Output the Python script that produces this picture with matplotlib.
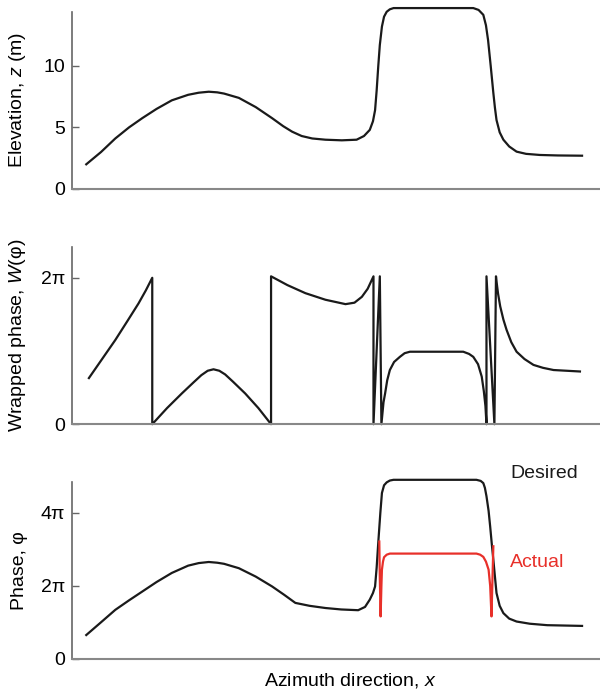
import numpy as np
import matplotlib
matplotlib.use("Agg")
import matplotlib.pyplot as plt

plt.rcParams['font.family'] = ['Liberation Sans', 'DejaVu Sans']
plt.rcParams['mathtext.fontset'] = 'custom'
plt.rcParams['mathtext.rm'] = 'Liberation Sans'
plt.rcParams['mathtext.it'] = 'Liberation Sans:italic'

# Elevation profile (azimuth in arbitrary units 0-100, z in m)
x_elev = [2.7, 5.5, 8.2, 10.8, 13.3, 16.0, 18.9, 22.0, 24.0, 25.9, 27.5, 28.8, 31.6,
          34.8, 37.9, 40.0, 41.7, 43.5, 45.5, 48.0, 51.1, 53.9, 55.3, 56.4, 57.0,
          57.4, 57.7, 58.0, 58.3, 58.7, 59.1, 59.6, 60.2, 60.9, 76.0, 77.0, 77.9,
          78.4, 78.8, 79.3, 79.8, 80.1, 80.4, 81.0, 81.7, 82.8, 84.2, 86.0, 88.6,
          92.0, 96.6]
z_elev = [2.0, 3.0, 4.1, 5.0, 5.75, 6.5, 7.2, 7.65, 7.82, 7.9, 7.85, 7.75, 7.4,
          6.65, 5.75, 5.1, 4.65, 4.3, 4.1, 4.0, 3.95, 4.0, 4.3, 4.8, 5.5,
          6.4, 8.0, 9.95, 11.7, 13.2, 14.0, 14.4, 14.6, 14.7, 14.7, 14.55, 14.15,
          13.3, 12.1, 10.0, 7.8, 6.6, 5.6, 4.6, 4.0, 3.45, 3.03, 2.85, 2.76,
          2.72, 2.7]

# Wrapped phase (in units of pi)
x_wrap = [3.2, 5.7, 8.2, 10.5, 12.6, 14.0, 15.2,
          15.2, 18.0, 20.8, 23.0, 24.5, 25.7, 26.8, 27.9, 29.0, 30.5, 32.8, 35.3, 37.7,
          37.7, 40.8, 44.2, 48.0, 51.8, 53.5, 54.9, 56.0, 57.1,
          57.1, 58.3, 58.6,
          59.0, 59.3, 59.7, 60.2, 61.0, 62.1, 63.0, 64.0, 74.1, 75.2, 76.0, 76.9,
          77.6, 78.0, 78.3, 78.5,
          78.5, 80.0, 80.3,
          80.4, 80.7, 81.1, 81.7, 82.3, 83.2, 84.2, 85.7, 87.4, 89.2, 91.2, 96.2]
w_wrap = [0.63, 0.89, 1.15, 1.41, 1.65, 1.83, 2.0,
          0.0, 0.22, 0.42, 0.57, 0.67, 0.73, 0.75, 0.73, 0.68, 0.58, 0.42, 0.22, 0.0,
          2.02, 1.9, 1.79, 1.70, 1.64, 1.66, 1.74, 1.85, 2.02,
          0.0, 2.02, 0.0,
          0.3, 0.42, 0.6, 0.74, 0.85, 0.92, 0.97, 0.99, 0.99, 0.96, 0.92, 0.82,
          0.65, 0.45, 0.25, 0.0,
          2.02, 0.0, 2.02,
          1.95, 1.78, 1.61, 1.43, 1.29, 1.12, 0.99, 0.89, 0.81, 0.77, 0.74, 0.72]

# Desired (unwrapped) phase, units of pi
x_des = [2.7, 5.5, 8.2, 10.8, 13.3, 16.0, 18.9, 22.0, 24.0, 25.9, 27.5, 28.8, 31.6,
         34.8, 37.9, 40.2, 42.3, 45.0, 48.0, 51.0, 54.2, 55.5, 56.4, 57.0, 57.4,
         57.7, 58.0, 58.4, 58.7, 59.1, 59.6, 60.2, 60.9, 76.6, 77.4, 77.9, 78.2,
         78.5, 78.9, 79.2, 79.5, 79.8, 80.1, 80.4, 81.0, 81.7, 82.8, 84.2, 86.7,
         90.0, 96.6]
p_des = [0.65, 1.0, 1.34, 1.6, 1.84, 2.1, 2.35, 2.55, 2.62, 2.65, 2.63, 2.6, 2.48,
         2.25, 1.98, 1.75, 1.53, 1.45, 1.39, 1.35, 1.33, 1.42, 1.62, 1.8, 1.98,
         2.5, 3.17, 4.0, 4.54, 4.75, 4.83, 4.88, 4.90, 4.90, 4.87, 4.81, 4.68,
         4.45, 4.05, 3.62, 3.15, 2.71, 2.25, 1.80, 1.45, 1.25, 1.1, 1.02, 0.96,
         0.92, 0.90]

# Actual phase, units of pi
x_act = [58.2, 58.3, 58.45, 58.6, 58.7, 58.9, 59.1, 59.6, 60.2, 76.6, 77.3, 77.9,
         78.4, 78.9, 79.2, 79.45, 79.6, 79.8]
p_act = [3.21, 2.2, 1.16, 2.0, 2.44, 2.66, 2.78, 2.85, 2.88, 2.88, 2.85, 2.79,
         2.66, 2.44, 2.0, 1.16, 2.0, 3.08]

fig = plt.figure(figsize=(6.0, 6.92), dpi=100)
left, width = 0.12, 0.88
ax1 = fig.add_axes([left, 0.727, width, 0.256])
ax2 = fig.add_axes([left, 0.387, width, 0.256])
ax3 = fig.add_axes([left, 0.048, width, 0.256])

ax1.plot(x_elev, z_elev, color='#1a1a1a', lw=1.6, clip_on=False)
ax2.plot(x_wrap, w_wrap, color='#1a1a1a', lw=1.6, clip_on=False)
ax3.plot(x_des, p_des, color='#1a1a1a', lw=1.6, clip_on=False)
ax3.plot(x_act, p_act, color='#e8302a', lw=1.6, clip_on=False)

ax1.set_ylim(0, 14.4)
ax1.set_yticks([0, 5, 10])
ax2.set_ylim(0, 2.42)
ax2.set_yticks([0, 2])
ax2.set_yticklabels(['0', '2π'])
ax3.set_ylim(0, 4.85)
ax3.set_yticks([0, 2, 4])
ax3.set_yticklabels(['0', '2π', '4π'])

ax1.set_ylabel('Elevation, $z$ (m)', fontsize=14)
ax2.set_ylabel('Wrapped phase, $W$(φ)', fontsize=14)
ax3.set_ylabel('Phase, φ', fontsize=14)

for ax in (ax1, ax2, ax3):
    ax.set_xlim(0, 100)
    ax.set_xticks([])
    ax.spines['top'].set_visible(False)
    ax.spines['right'].set_visible(False)
    ax.spines['left'].set_color('#666666')
    ax.spines['bottom'].set_color('#888888')
    ax.spines['left'].set_linewidth(1.2)
    ax.spines['bottom'].set_linewidth(1.5)
    ax.tick_params(axis='y', direction='in', length=5, width=1, color='#666666',
                   labelsize=14, pad=5)
    ax.yaxis.set_label_coords(-0.083, 0.5)

ax3.text(83.0, 4.96, 'Desired', fontsize=14, color='#1a1a1a', va='baseline')
ax3.text(83.0, 2.52, 'Actual', fontsize=14, color='#e8302a', va='baseline')

fig.text(350 / 600, 0.017, 'Azimuth direction, $x$', fontsize=14, ha='center', va='center')

fig.savefig('out.png', dpi=100)
